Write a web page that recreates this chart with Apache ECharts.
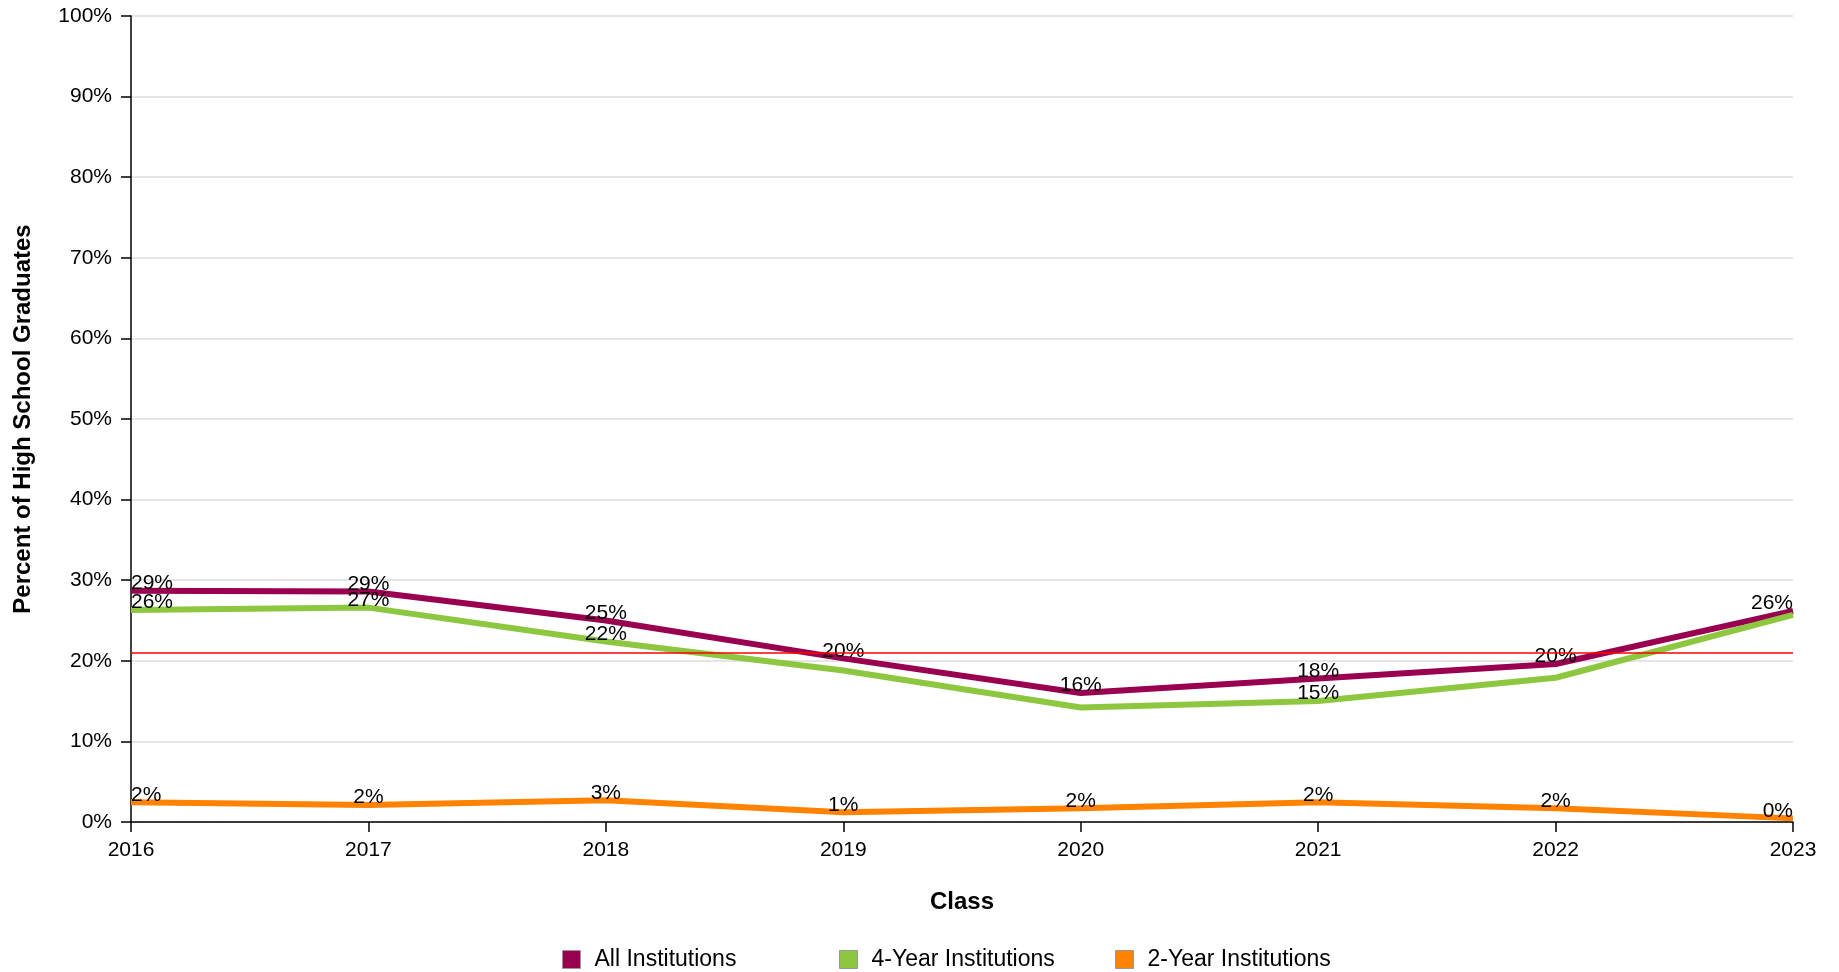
<!DOCTYPE html>
<html>
<head>
<meta charset="utf-8">
<script src="https://cdn.jsdelivr.net/npm/echarts@6/dist/echarts.min.js"></script>
<style>
html,body{margin:0;padding:0;background:#fff;}
#chart{width:1839px;height:972px;}
</style>
</head>
<body>
<div id="chart"></div>
<script>
const categories = ['2016','2017','2018','2019','2020','2021','2022','2023'];
const allInstitutions = [28.7, 28.6, 25.0, 20.3, 16.0, 17.8, 19.6, 26.2];
const fourYear = [26.3, 26.6, 22.4, 18.8, 14.2, 15.0, 17.9, 25.7];
const twoYear = [2.45, 2.1, 2.7, 1.2, 1.7, 2.45, 1.7, 0.45];
const referenceValue = 21;
const seriesNames = ['All Institutions', '4-Year Institutions', '2-Year Institutions'];

const FONT = '"Liberation Sans", Arial, Helvetica, sans-serif';
const colors = ['#990050', '#8DC63F', '#FF8200'];

// label collision rule: a label is hidden when it would sit on top of the label of the series above it
function buildData(values, above) {
  return values.map(function (v, i) {
    const item = { value: v, label: {} };
    if (i === 0) item.label.align = 'left';
    if (i === values.length - 1) item.label.align = 'right';
    if (above && (above[i] - v) < 1.9) item.label.show = false;
    return item;
  });
}

function makeSeries(name, values, color, above, extra) {
  const s = {
    name: name,
    type: 'line',
    data: buildData(values, above),
    symbol: 'circle',
    symbolSize: 0.01,
    showSymbol: true,
    lineStyle: { color: color, width: 6 },
    itemStyle: { color: color },
    label: {
      show: true,
      position: 'top',
      distance: -3,
      color: '#000',
      fontSize: 21,
      fontFamily: FONT,
      formatter: function (p) { return Math.round(p.value) + '%'; }
    },
    emphasis: { disabled: true }
  };
  return Object.assign(s, extra || {});
}

const chart = echarts.init(document.getElementById('chart'), null, { renderer: 'canvas' });

const legendBase = {
  top: 943,
  itemWidth: 18,
  itemHeight: 18,
  icon: 'rect',
  selectedMode: false,
  textStyle: { fontSize: 23, color: '#000', fontFamily: FONT, padding: [0, 0, 0, 9] },
  itemStyle: { borderColor: '#999', borderWidth: 1 }
};

chart.setOption({
  animation: false,
  backgroundColor: '#fff',
  color: colors,
  grid: { left: 131, right: 46, top: 16, bottom: 150, containLabel: false },
  legend: [
    Object.assign({}, legendBase, { left: 557, data: [seriesNames[0]] }),
    Object.assign({}, legendBase, { left: 834, data: [seriesNames[1]] }),
    Object.assign({}, legendBase, { left: 1110, data: [seriesNames[2]] })
  ],
  xAxis: {
    type: 'category',
    data: categories,
    boundaryGap: false,
    name: 'Class',
    nameLocation: 'middle',
    nameGap: 68,
    nameTextStyle: { fontSize: 24, fontWeight: 'bold', color: '#000', fontFamily: FONT },
    axisLine: { lineStyle: { color: '#000', width: 1.5 } },
    axisTick: { show: true, length: 10, alignWithLabel: true, lineStyle: { color: '#000', width: 1.5 } },
    axisLabel: { fontSize: 21, color: '#000', fontFamily: FONT, margin: 18 },
    splitLine: { show: false }
  },
  yAxis: {
    type: 'value',
    min: 0,
    max: 100,
    interval: 10,
    name: 'Percent of High School Graduates',
    nameLocation: 'middle',
    nameGap: 96,
    nameTextStyle: { fontSize: 24, fontWeight: 'bold', color: '#000', fontFamily: FONT },
    axisLine: { show: true, lineStyle: { color: '#000', width: 1.5 } },
    axisTick: { show: true, length: 10, lineStyle: { color: '#000', width: 1.5 } },
    axisLabel: { fontSize: 21, color: '#000', fontFamily: FONT, margin: 19, formatter: '{value}%' },
    splitLine: { show: true, lineStyle: { color: '#dddddd', width: 1.5 } }
  },
  series: [
    makeSeries(seriesNames[0], allInstitutions, colors[0], null, {
      markLine: {
        silent: true,
        symbol: 'none',
        label: { show: false },
        lineStyle: { color: '#ff0000', width: 1.5, type: 'solid' },
        data: [{ yAxis: referenceValue }]
      }
    }),
    makeSeries(seriesNames[1], fourYear, colors[1], allInstitutions),
    makeSeries(seriesNames[2], twoYear, colors[2], null)
  ]
});
</script>
</body>
</html>
